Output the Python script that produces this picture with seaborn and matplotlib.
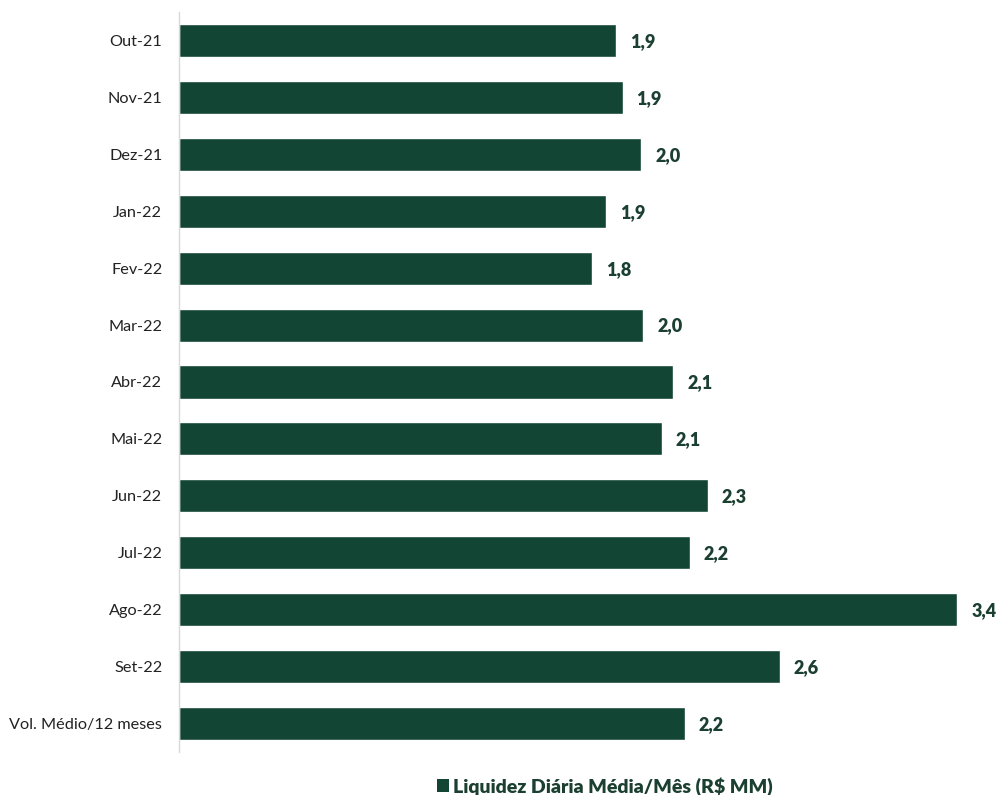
import matplotlib
matplotlib.use("Agg")
import matplotlib.pyplot as plt
import seaborn as sns
import pandas as pd
from matplotlib.patches import Patch

categories = ["Out-21", "Nov-21", "Dez-21", "Jan-22", "Fev-22", "Mar-22", "Abr-22",
              "Mai-22", "Jun-22", "Jul-22", "Ago-22", "Set-22", "Vol. Médio/12 meses"]
values = [1.89, 1.92, 2.00, 1.85, 1.79, 2.01, 2.14, 2.09, 2.29, 2.21, 3.37, 2.60, 2.19]
labels = ["1,9", "1,9", "2,0", "1,9", "1,8", "2,0", "2,1", "2,1", "2,3", "2,2", "3,4", "2,6", "2,2"]
series_name = "Liquidez Diária Média/Mês (R$ MM)"

bar_color = "#124534"
text_color = "#1b3f31"

sns.set_theme(style="white")
plt.rcParams["font.family"] = ["Lato", "DejaVu Sans"]

df = pd.DataFrame({"cat": categories, "val": values})

fig = plt.figure(figsize=(10, 7.95), dpi=100)
ax = fig.add_axes([0.179, 0.054, 0.8085, 0.931])

sns.barplot(data=df, y="cat", x="val", orient="h", color=bar_color,
            saturation=1, width=0.58, ax=ax)

for patch, lab in zip(ax.patches, labels):
    w = patch.get_width()
    y = patch.get_y() + patch.get_height() / 2
    ax.annotate(lab, (w, y), xytext=(14, -1), textcoords="offset pixels",
                ha="left", va="center", fontsize=13, fontweight="heavy", color=text_color)

ax.set_xlim(0, 3.5)
ax.set_ylim(12.5, -0.5)
ax.set_xlabel("")
ax.set_ylabel("")
ax.set_xticks([])
for s in ["top", "right", "bottom"]:
    ax.spines[s].set_visible(False)
ax.spines["left"].set_color("#d9d9d9")
ax.spines["left"].set_linewidth(1)
ax.tick_params(axis="y", length=0, pad=12, labelsize=11.7, labelcolor="#222222")

handle = Patch(facecolor=bar_color, edgecolor="none")
leg = fig.legend([handle], [series_name], loc="center", bbox_to_anchor=(0.605, 0.011),
                 frameon=False, handlelength=0.6, handleheight=0.6, handletextpad=0.25,
                 prop={"weight": "heavy", "size": 14})
for t in leg.get_texts():
    t.set_color(text_color)

fig.savefig("out.png", dpi=100)
